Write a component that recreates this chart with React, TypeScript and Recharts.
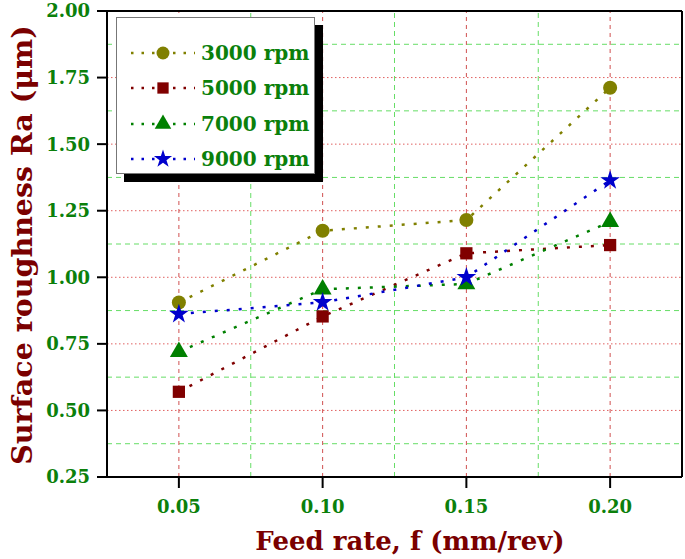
import React from 'react';
import {
  LineChart,
  Line,
  XAxis,
  YAxis,
  ReferenceLine,
  Label,
  Symbols,
} from 'recharts';

const feedRates = [0.05, 0.1, 0.15, 0.2];
const rpm3000 = [0.905, 1.175, 1.215, 1.712];
const rpm5000 = [0.57, 0.853, 1.09, 1.121];
const rpm7000 = [0.72, 0.955, 0.975, 1.208];
const rpm9000 = [0.862, 0.906, 1.0, 1.364];

const xTicks = [0.05, 0.1, 0.15, 0.2];
const xMinorGrid = [0.075, 0.125, 0.175];
const yTicks = [0.25, 0.5, 0.75, 1.0, 1.25, 1.5, 1.75, 2.0];
const yMajorGrid = [0.5, 0.75, 1.0, 1.25, 1.5, 1.75];
const yMinorGrid = [0.375, 0.625, 0.875, 1.125, 1.375, 1.625, 1.875];

const data = feedRates.map((f, i) => ({
  f,
  r3000: rpm3000[i],
  r5000: rpm5000[i],
  r7000: rpm7000[i],
  r9000: rpm9000[i],
}));

const series = [
  { key: 'r3000', name: '3000 rpm', color: '#808000', shape: 'circle', size: 155 },
  { key: 'r5000', name: '5000 rpm', color: '#800000', shape: 'square', size: 150 },
  { key: 'r7000', name: '7000 rpm', color: '#008000', shape: 'triangle', size: 140 },
  { key: 'r9000', name: '9000 rpm', color: '#0000cc', shape: 'star', size: 120 },
];

const FONT = '"DejaVu Serif", serif';
const TICK_GREEN = '#0b800b';
const TITLE_RED = '#7a0000';

const makeDot = (shape: any, size: number, color: string) => (props: any) => {
  const { cx, cy, index } = props;
  if (cx == null || cy == null) return <g key={index} />;
  return <Symbols key={index} cx={cx} cy={cy} type={shape} size={size} fill={color} />;
};

const LegendBox = () => (
  <div
    style={{
      position: 'absolute',
      left: 116,
      top: 17,
      width: 199,
      height: 157,
      background: '#fff',
      border: '1px solid #777',
      boxShadow: '8px 8px 0 #000',
      boxSizing: 'border-box',
      paddingTop: 17,
    }}
  >
    {series.map((s) => (
      <div key={s.key} style={{ display: 'flex', alignItems: 'center', height: 35.5, whiteSpace: 'nowrap' }}>
        <svg width={68} height={24} style={{ marginLeft: 12, flex: 'none' }}>
          <line x1={2} y1={12} x2={66} y2={12} stroke={s.color} strokeWidth={2.5} strokeDasharray="2.5 8" />
          <Symbols cx={34} cy={12} type={s.shape as any} size={s.size * 0.85} fill={s.color} />
        </svg>
        <span
          style={{
            fontFamily: FONT,
            fontWeight: 'bold',
            fontSize: 20,
            color: TICK_GREEN,
            marginLeft: 4,
          }}
        >
          {s.name}
        </span>
      </div>
    ))}
  </div>
);

export default function App() {
  return (
    <div style={{ position: 'absolute', left: 0, top: 0, width: 685, height: 559, background: '#fff' }}>
      <LineChart width={685} height={559} data={data} margin={{ top: 11, right: 3, left: 0, bottom: 0 }}>
        <XAxis
          dataKey="f"
          type="number"
          domain={[0.025, 0.225]}
          ticks={xTicks}
          tickFormatter={(v: number) => v.toFixed(2)}
          height={82}
          tickSize={11}
          tickMargin={12}
          axisLine={{ stroke: '#000', strokeWidth: 2 }}
          tickLine={{ stroke: '#000', strokeWidth: 2 }}
          tick={{ fill: TICK_GREEN, fontFamily: FONT, fontWeight: 'bold', fontSize: 18 }}
          allowDataOverflow
        >
          <Label
            content={() => (
              <text x={410} y={550} textAnchor="middle" fill={TITLE_RED} fontFamily={FONT} fontWeight="bold" fontSize={26}>
                Feed rate, f (mm/rev)
              </text>
            )}
          />
        </XAxis>
        <YAxis
          type="number"
          domain={[0.25, 2]}
          ticks={yTicks}
          tickFormatter={(v: number) => v.toFixed(2)}
          width={107}
          tickSize={10}
          tickMargin={7}
          axisLine={{ stroke: '#000', strokeWidth: 2 }}
          tickLine={{ stroke: '#000', strokeWidth: 2 }}
          tick={{ fill: TICK_GREEN, fontFamily: FONT, fontWeight: 'bold', fontSize: 18 }}
          allowDataOverflow
        >
          <Label
            content={() => (
              <text
                x={32}
                y={245}
                transform="rotate(-90 32 245)"
                textAnchor="middle"
                fill={TITLE_RED}
                fontFamily={FONT}
                fontWeight="bold"
                fontSize={28.5}
              >
                Surface roughness Ra (μm)
              </text>
            )}
          />
        </YAxis>
        {yMinorGrid.map((v) => (
          <ReferenceLine key={'ym' + v} y={v} stroke="#66dd66" strokeWidth={1} strokeDasharray="5 4" />
        ))}
        {yMajorGrid.map((v) => (
          <ReferenceLine key={'yM' + v} y={v} stroke="#e06060" strokeWidth={1} strokeDasharray="1.5 2.5" />
        ))}
        {xMinorGrid.map((v) => (
          <ReferenceLine key={'xm' + v} x={v} stroke="#66dd66" strokeWidth={1} strokeDasharray="5 4" />
        ))}
        {xTicks.map((v) => (
          <ReferenceLine key={'xM' + v} x={v} stroke="#d05050" strokeWidth={1} strokeDasharray="4 4" />
        ))}
        <ReferenceLine y={2} stroke="#000" strokeWidth={2} />
        <ReferenceLine x={0.225} stroke="#000" strokeWidth={2} />
        {series.map((s) => (
          <Line
            key={s.key}
            dataKey={s.key}
            name={s.name}
            type="linear"
            stroke={s.color}
            strokeWidth={2.5}
            strokeDasharray="3 9"
            dot={makeDot(s.shape, s.size, s.color)}
            activeDot={false}
            isAnimationActive={false}
          />
        ))}
      </LineChart>
      <LegendBox />
    </div>
  );
}
